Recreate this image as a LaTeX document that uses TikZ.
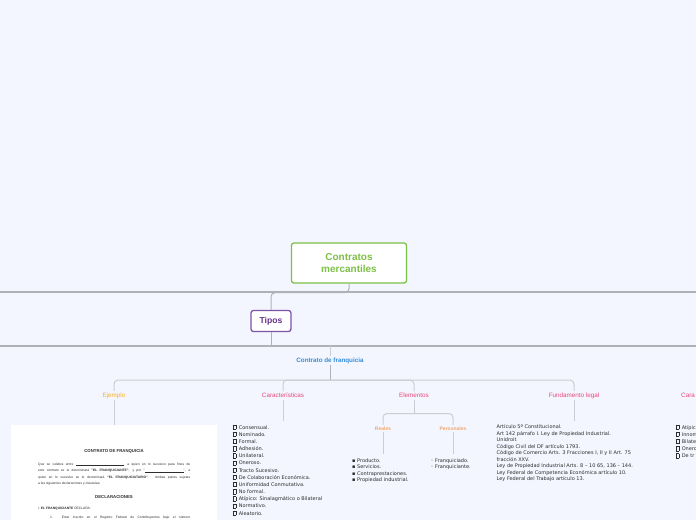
\documentclass[tikz,border=0pt]{standalone}
\usepackage{fontspec}
\setmainfont{Liberation Sans}
\newfontfamily\listfont{DejaVu Sans}
\definecolor{bg}{RGB}{243,246,254}
\definecolor{mgreen}{RGB}{125,192,70}
\definecolor{mpurple}{RGB}{124,84,168}
\definecolor{tpurple}{RGB}{100,50,140}
\definecolor{mblue}{RGB}{52,140,214}
\definecolor{morange}{RGB}{246,176,38}
\definecolor{mpink}{RGB}{232,72,126}
\definecolor{msalmon}{RGB}{242,166,108}
\definecolor{lineA}{RGB}{176,176,184}
\definecolor{lineB}{RGB}{204,204,212}
\definecolor{txt}{RGB}{45,45,45}
\newcommand{\tofubox}{{\setlength{\fboxsep}{0pt}\setlength{\fboxrule}{0.4pt}\fbox{\rule{0pt}{4pt}\hspace{2.9pt}}\hspace{2.4pt}}}
\begin{document}
\begin{tikzpicture}[x=1pt,y=-1pt,
  mainbox/.style={draw=mgreen, line width=1.3pt, fill=white, rounded corners=2.5pt,
    minimum width=115pt, minimum height=40pt, align=center, text=mgreen,
    font=\fontsize{10}{12}\selectfont\bfseries},
  tiposbox/.style={draw=mpurple, line width=1.3pt, fill=white, rounded corners=2.5pt,
    minimum width=40pt, minimum height=21pt, text=tpurple,
    font=\fontsize{8.6}{10}\selectfont\bfseries},
  bigline/.style={draw=lineA, line width=1.3pt},
  conn/.style={draw=lineA, line width=1pt, rounded corners=4pt},
  lconn/.style={draw=lineB, line width=1pt, rounded corners=4pt},
  topic/.style={inner sep=1.5pt, font=\fontsize{6.3}{7.5}\selectfont},
  subtopic/.style={inner sep=1.5pt, text=msalmon, font=\fontsize{5}{6}\selectfont\bfseries},
  listtxt/.style={anchor=north west, inner sep=0pt, align=left, text=txt,
    font=\listfont\fontsize{5}{7.17}\selectfont},
  listtxtb/.style={listtxt, font=\listfont\fontsize{5}{6.5}\selectfont},
  doctxt/.style={inner sep=0pt, text=txt, font=\fontsize{3.3}{6.5}\selectfont},
]
\useasboundingbox (0,0) rectangle (696,520);
\fill[bg] (0,0) rectangle (696,520);
\clip (0,0) rectangle (696,520);

% main nodes
\node[mainbox] (root) at (349,263) {Contratos\\mercantiles};
\node[tiposbox] (tipos) at (271,321) {Tipos};
\coordinate (w1) at (0,292);
\coordinate (e1) at (696,292);
\coordinate (w2) at (0,346);
\coordinate (e2) at (696,346);
\draw[bigline] (w1) -- (e1);
\draw[conn] (root.south) -- ++(0,9) -| (tipos.north);
\draw[bigline] (w2) -- (e2);
\draw[conn] (tipos.south) -- (tipos.south |- w2);

\node[topic, text=mblue, font=\fontsize{6.3}{7.5}\selectfont\bfseries] (cf) at (330,360.5) {Contrato de franquicia};
\draw[lconn] (cf.north |- w2) -- (cf.north);
\coordinate (bus) at (330,380);
\draw[conn] (cf.south) -- (bus);

\node[topic, text=morange] (ex) at (114,395.5) {Ejemplo};
\node[topic, text=mpink] (car) at (283,395.5) {Características};
\node[topic, text=mpink] (elem) at (414,395.5) {Elementos};
\node[topic, text=mpink] (fund) at (574,395.5) {Fundamento legal};
\node[topic, text=mpink, anchor=west] (car2) at (679.5,395.5) {Cara};

\draw[lconn] (bus) -| (ex.north);
\draw[lconn] (bus) -| (car.north);
\draw[lconn] (bus) -| (elem.north);
\draw[lconn] (bus) -| (fund.north);

% Ejemplo: document image
\node[fill=white, minimum width=206pt, minimum height=110pt, anchor=north, inner sep=0pt] (img) at (114,425) {};
\draw[lconn] (ex.south) -- (img.north);
\node[doctxt, font=\fontsize{4.3}{5}\selectfont\bfseries] (dtitle) at (114,451) {CONTRATO DE FRANQUICIA};
\node[doctxt, anchor=north west, align=left] (dpar) at (38,462.5) {%
\makebox[152pt][s]{Que se celebra entre \rule[-0.4pt]{48pt}{0.3pt}, a quien en lo sucesivo para fines de}\\
\makebox[152pt][s]{este contrato se le denominará \textbf{"EL FRANQUICIANTE"}; y por "\rule[-0.4pt]{39pt}{0.3pt}", a}\\
\makebox[152pt][s]{quien en lo sucesivo se le denominará \textbf{"EL FRANQUICIATARIO"}. Ambas partes sujetas}\\
a las siguientes declaraciones y cláusulas:};
\node[doctxt, font=\fontsize{4.3}{5}\selectfont\bfseries] (ddecl) at (114,497) {DECLARACIONES};
\node[doctxt, anchor=west] (dfr) at (38,509) {I. \textbf{EL FRANQUICIANTE} DECLARA:};
\node[doctxt, anchor=west] (dit) at (50,518) {\makebox[140pt][s]{1. Estar inscrito en el Registro Federal de Contribuyentes bajo el número}};

% Caracteristicas list
\coordinate (carend) at (283,421);
\draw[lconn] (car.south) -- (carend);
\node[listtxt] (carlist) at (232.5,424.5) {\tofubox Consensual.\\\tofubox Nominado.\\\tofubox Formal.\\\tofubox Adhesión.\\\tofubox Unilateral.\\\tofubox Oneroso.\\\tofubox Tracto Sucesivo.\\\tofubox De Colaboración Económica.\\\tofubox Uniformidad Conmutativa.\\\tofubox No formal.\\\tofubox Atípico: Sinalagmático o Bilateral\\\tofubox Normativo.\\\tofubox Aleatorio.};

% Elementos
\draw[lconn] (elem.south) -- ++(0,14) coordinate (ebus);
\node[subtopic] (reales) at (383,428.5) {Reales};
\node[subtopic] (pers) at (453,428.5) {Personales};
\draw[lconn] (ebus) -| (reales.north);
\draw[lconn] (ebus) -| (pers.north);
\draw[lconn] (reales.south) -- ++(0,22);
\draw[lconn] (pers.south) -- ++(0,22);
\node[listtxtb] (rlist) at (352,458) {▪ Producto.\\▪ Servicios.\\▪ Contraprestaciones.\\▪ Propiedad industrial.};
\node[listtxtb] (plist) at (430.5,458) {◦ Franquiciado.\\◦ Franquiciante.};

% Fundamento legal
\coordinate (fundend) at (574,421);
\draw[lconn] (fund.south) -- (fundend);
\node[listtxtb] (flist) at (496.5,424.5) {Artículo 5º Constitucional.\\Art 142 párrafo I. Ley de Propiedad Industrial.\\Unidroit\\Código Civil del DF artículo 1793.\\Código de Comercio Arts. 3 Fracciones I, II y II Art. 75\\fracción XXV.\\Ley de Propiedad Industrial Arts. 8 – 10 65, 136 – 144.\\Ley Federal de Competencia Económica artículo 10.\\Ley Federal del Trabajo artículo 13.};

% right edge, as visible
\node[listtxt] (car2list) at (675.5,424.5) {\tofubox Atípic\\\tofubox Innom\\\tofubox Bilate\\\tofubox Onero\\\tofubox De tr};
\end{tikzpicture}
\end{document}
